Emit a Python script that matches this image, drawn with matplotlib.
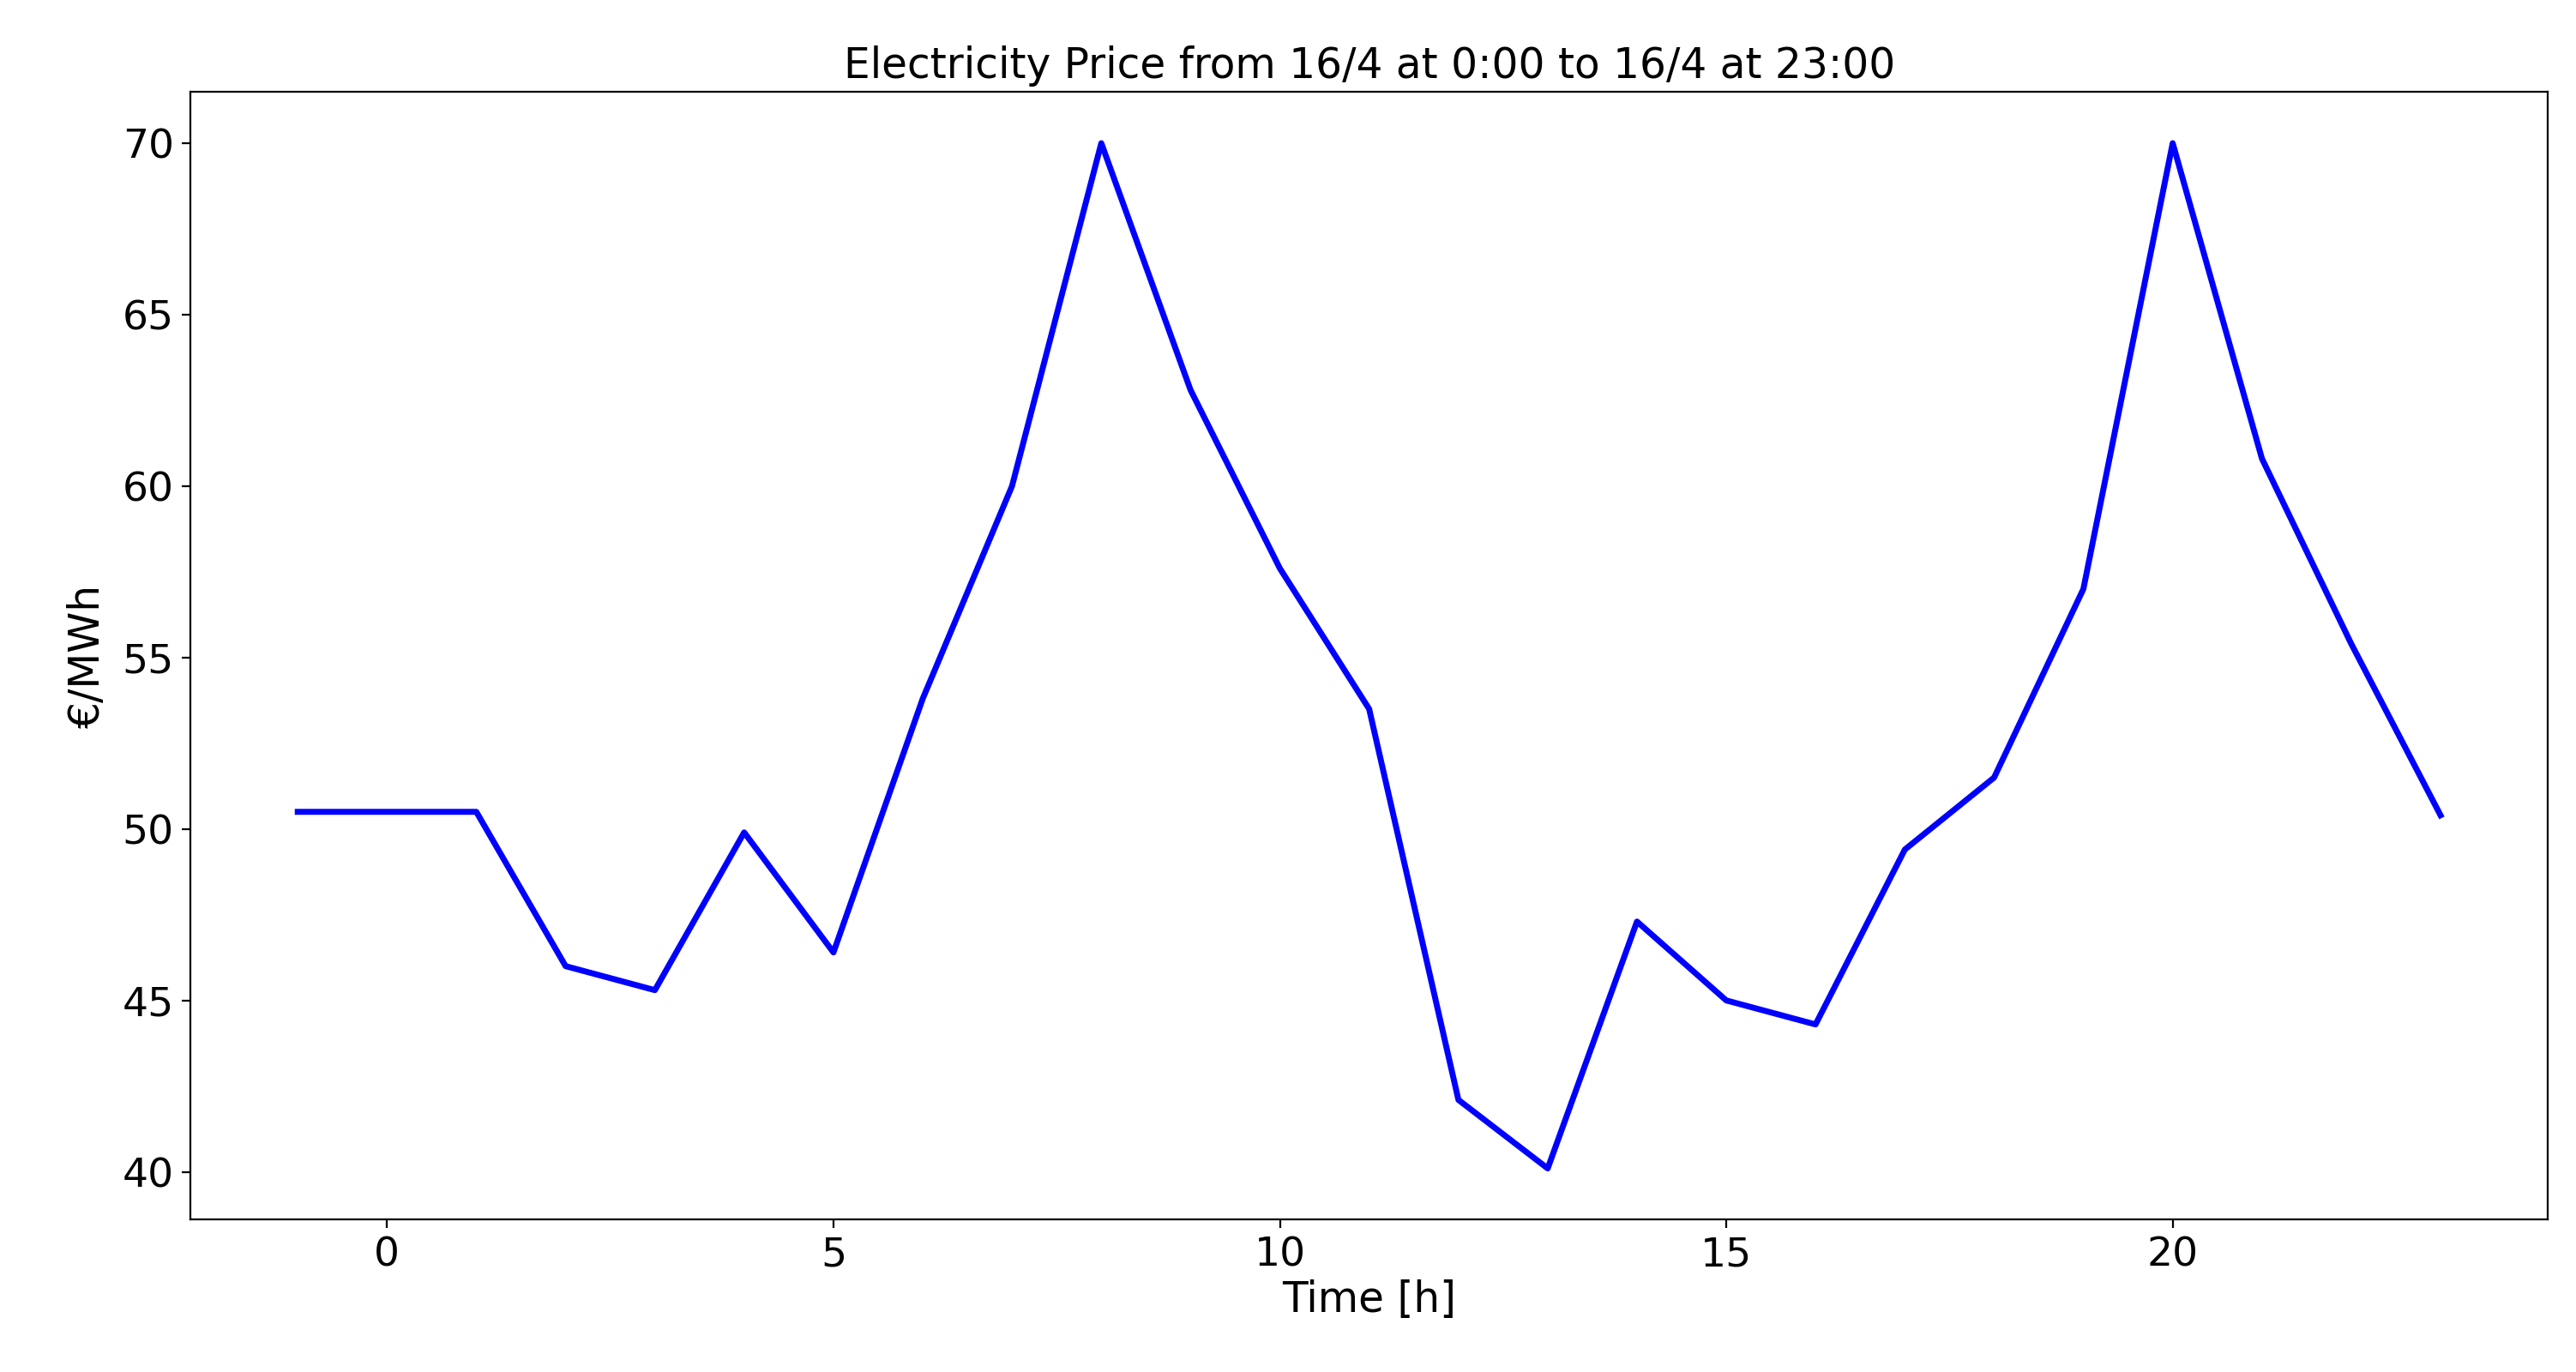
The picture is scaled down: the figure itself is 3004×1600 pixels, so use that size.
import matplotlib
matplotlib.use("Agg")
import matplotlib.pyplot as plt

hours = list(range(-1, 24))
prices = [50.5, 50.5, 50.5, 46.0, 45.3, 49.9, 46.4, 53.8, 60.0, 70.0, 62.8, 57.6, 53.5,
          42.1, 40.1, 47.3, 45.0, 44.3, 49.4, 51.5, 57.0, 70.0, 60.8, 55.4, 50.4]
title = "Electricity Price from 16/4 at 0:00 to 16/4 at 23:00"

fig = plt.figure(figsize=(15.02, 8), dpi=200)
ax = fig.add_axes([0.074, 0.111, 0.915, 0.822])
ax.plot(hours, prices, color="blue", linewidth=2.5)
ax.set_title(title, fontsize=17.5)
ax.set_xlabel("Time [h]", fontsize=17.5, labelpad=2)
ax.set_ylabel("€/MWh", fontsize=17.5, labelpad=6)
ax.tick_params(labelsize=17)
fig.savefig("out.png", dpi=200)
